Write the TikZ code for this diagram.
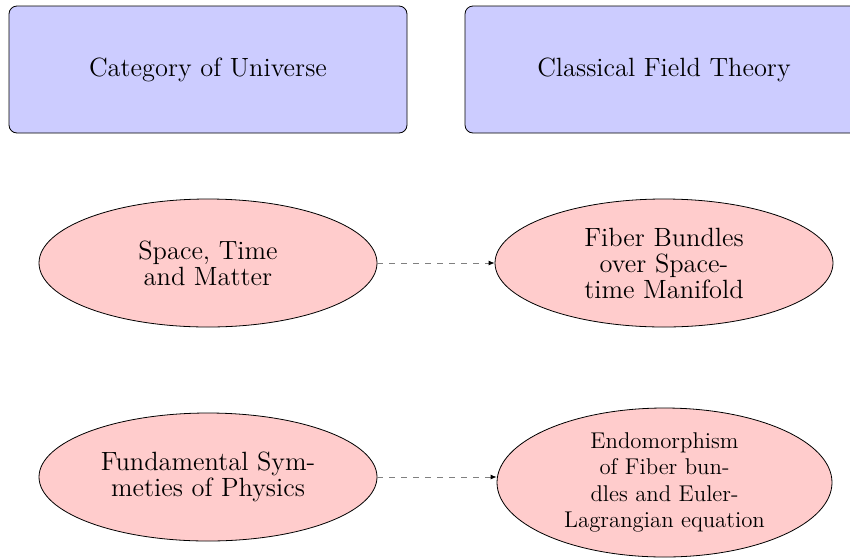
\documentclass[tikz,border=0pt]{standalone}
\usetikzlibrary{shapes.geometric,arrows.meta}
\begin{document}
\begin{tikzpicture}[x=0.5pt,y=-0.5pt,
  catbox/.style={draw, fill=blue!20, rounded corners=4pt, minimum width=199pt, minimum height=63.5pt, inner sep=0pt, font=\fontsize{13.2}{13}\selectfont},
  ellnode/.style={draw, ellipse, fill=red!20, minimum width=169pt, minimum height=64pt, inner sep=0pt, align=center, font=\fontsize{13.2}{13}\selectfont},
  mapsto/.style={dashed, gray, -{Latex[black,length=3pt,width=2.5pt]}}]
\useasboundingbox (0,0) rectangle (850,558);
\clip (0,0) rectangle (850,558);
\node[catbox] (cu) at (208,69.5) {Category of Universe};
\node[catbox] (cf) at (664,69.5) {Classical Field Theory};
\node[ellnode] (stm) at (208,263) {Space, Time\\and Matter};
\node[ellnode] (fb) at (664,263) {Fiber Bundles\\over Space-\\time Manifold};
\node[ellnode] (fs) at (208,477) {Fundamental Sym-\\meties of Physics};
\node[ellnode, minimum width=167.5pt, minimum height=74.5pt, font=\fontsize{11.4}{13.3}\selectfont] (en) at (664.5,482.5) {Endomorphism\\of Fiber bun-\\dles and Euler-\\Lagrangian equation};
\draw[mapsto] (stm.east) -- (fb.west);
\draw[mapsto] (fs.east) -- (fs.east -| en.west);
\end{tikzpicture}
\end{document}
